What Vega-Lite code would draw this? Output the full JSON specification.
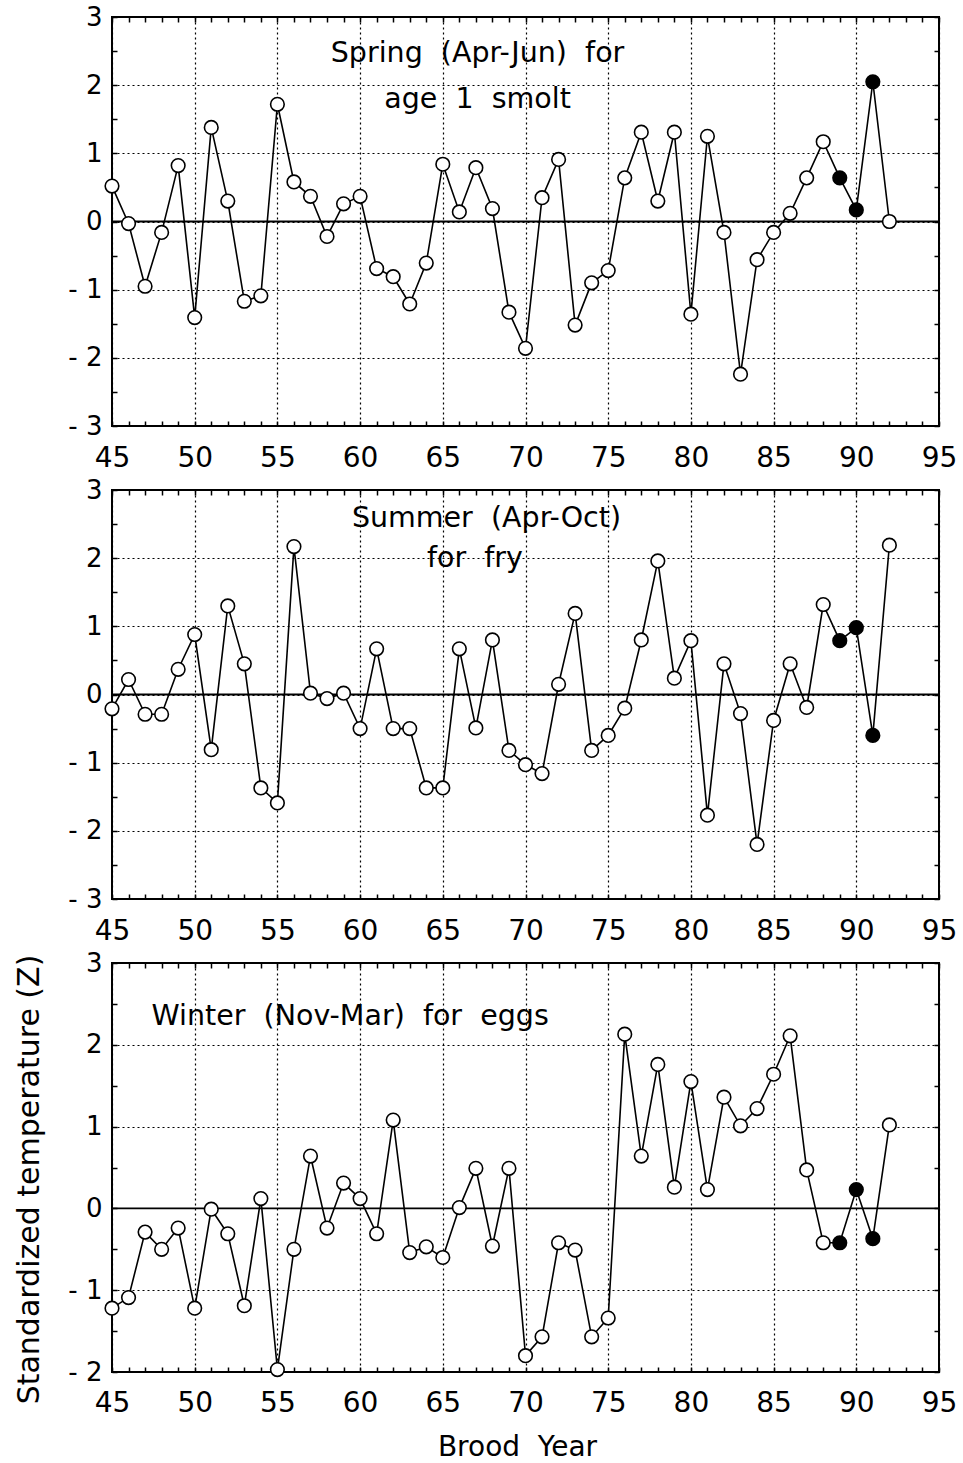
{
  "$schema": "https://vega.github.io/schema/vega-lite/v6.json",
  "autosize": {"type": "pad"},
  "padding": {"left": 12, "top": 3, "right": 5, "bottom": 2},
  "background": "white",
  "config": {
    "view": {"stroke": "black", "strokeWidth": 2},
    "font": "DejaVu Sans",
    "text": {"font": "DejaVu Sans"}
  },
  "spacing": 64,
  "bounds": "flush",
  "datasets": {
    "temps": [
      {"season": "spring", "year": 45, "z": 0.52}, {"season": "spring", "year": 46, "z": -0.03}, {"season": "spring", "year": 47, "z": -0.95}, {"season": "spring", "year": 48, "z": -0.16}, {"season": "spring", "year": 49, "z": 0.82}, {"season": "spring", "year": 50, "z": -1.41}, {"season": "spring", "year": 51, "z": 1.38}, {"season": "spring", "year": 52, "z": 0.30}, {"season": "spring", "year": 53, "z": -1.17}, {"season": "spring", "year": 54, "z": -1.09}, {"season": "spring", "year": 55, "z": 1.72}, {"season": "spring", "year": 56, "z": 0.58}, {"season": "spring", "year": 57, "z": 0.37}, {"season": "spring", "year": 58, "z": -0.22}, {"season": "spring", "year": 59, "z": 0.26}, {"season": "spring", "year": 60, "z": 0.37}, {"season": "spring", "year": 61, "z": -0.69}, {"season": "spring", "year": 62, "z": -0.81}, {"season": "spring", "year": 63, "z": -1.21}, {"season": "spring", "year": 64, "z": -0.61}, {"season": "spring", "year": 65, "z": 0.84}, {"season": "spring", "year": 66, "z": 0.14}, {"season": "spring", "year": 67, "z": 0.79}, {"season": "spring", "year": 68, "z": 0.19}, {"season": "spring", "year": 69, "z": -1.33}, {"season": "spring", "year": 70, "z": -1.86}, {"season": "spring", "year": 71, "z": 0.35}, {"season": "spring", "year": 72, "z": 0.91}, {"season": "spring", "year": 73, "z": -1.52}, {"season": "spring", "year": 74, "z": -0.90}, {"season": "spring", "year": 75, "z": -0.72}, {"season": "spring", "year": 76, "z": 0.64}, {"season": "spring", "year": 77, "z": 1.31}, {"season": "spring", "year": 78, "z": 0.30}, {"season": "spring", "year": 79, "z": 1.31}, {"season": "spring", "year": 80, "z": -1.36}, {"season": "spring", "year": 81, "z": 1.25}, {"season": "spring", "year": 82, "z": -0.16}, {"season": "spring", "year": 83, "z": -2.24}, {"season": "spring", "year": 84, "z": -0.56}, {"season": "spring", "year": 85, "z": -0.16}, {"season": "spring", "year": 86, "z": 0.12}, {"season": "spring", "year": 87, "z": 0.64}, {"season": "spring", "year": 88, "z": 1.17}, {"season": "spring", "year": 89, "z": 0.64}, {"season": "spring", "year": 90, "z": 0.17}, {"season": "spring", "year": 91, "z": 2.05}, {"season": "spring", "year": 92, "z": 0.0},
      {"season": "summer", "year": 45, "z": -0.21}, {"season": "summer", "year": 46, "z": 0.22}, {"season": "summer", "year": 47, "z": -0.29}, {"season": "summer", "year": 48, "z": -0.29}, {"season": "summer", "year": 49, "z": 0.37}, {"season": "summer", "year": 50, "z": 0.88}, {"season": "summer", "year": 51, "z": -0.81}, {"season": "summer", "year": 52, "z": 1.30}, {"season": "summer", "year": 53, "z": 0.45}, {"season": "summer", "year": 54, "z": -1.37}, {"season": "summer", "year": 55, "z": -1.59}, {"season": "summer", "year": 56, "z": 2.17}, {"season": "summer", "year": 57, "z": 0.02}, {"season": "summer", "year": 58, "z": -0.06}, {"season": "summer", "year": 59, "z": 0.02}, {"season": "summer", "year": 60, "z": -0.50}, {"season": "summer", "year": 61, "z": 0.67}, {"season": "summer", "year": 62, "z": -0.50}, {"season": "summer", "year": 63, "z": -0.50}, {"season": "summer", "year": 64, "z": -1.37}, {"season": "summer", "year": 65, "z": -1.37}, {"season": "summer", "year": 66, "z": 0.67}, {"season": "summer", "year": 67, "z": -0.49}, {"season": "summer", "year": 68, "z": 0.80}, {"season": "summer", "year": 69, "z": -0.82}, {"season": "summer", "year": 70, "z": -1.03}, {"season": "summer", "year": 71, "z": -1.16}, {"season": "summer", "year": 72, "z": 0.15}, {"season": "summer", "year": 73, "z": 1.19}, {"season": "summer", "year": 74, "z": -0.82}, {"season": "summer", "year": 75, "z": -0.60}, {"season": "summer", "year": 76, "z": -0.20}, {"season": "summer", "year": 77, "z": 0.80}, {"season": "summer", "year": 78, "z": 1.96}, {"season": "summer", "year": 79, "z": 0.24}, {"season": "summer", "year": 80, "z": 0.79}, {"season": "summer", "year": 81, "z": -1.77}, {"season": "summer", "year": 82, "z": 0.45}, {"season": "summer", "year": 83, "z": -0.28}, {"season": "summer", "year": 84, "z": -2.20}, {"season": "summer", "year": 85, "z": -0.38}, {"season": "summer", "year": 86, "z": 0.45}, {"season": "summer", "year": 87, "z": -0.19}, {"season": "summer", "year": 88, "z": 1.32}, {"season": "summer", "year": 89, "z": 0.79}, {"season": "summer", "year": 90, "z": 0.98}, {"season": "summer", "year": 91, "z": -0.60}, {"season": "summer", "year": 92, "z": 2.19},
      {"season": "winter", "year": 45, "z": -1.22}, {"season": "winter", "year": 46, "z": -1.09}, {"season": "winter", "year": 47, "z": -0.29}, {"season": "winter", "year": 48, "z": -0.50}, {"season": "winter", "year": 49, "z": -0.24}, {"season": "winter", "year": 50, "z": -1.22}, {"season": "winter", "year": 51, "z": -0.01}, {"season": "winter", "year": 52, "z": -0.31}, {"season": "winter", "year": 53, "z": -1.19}, {"season": "winter", "year": 54, "z": 0.12}, {"season": "winter", "year": 55, "z": -1.97}, {"season": "winter", "year": 56, "z": -0.50}, {"season": "winter", "year": 57, "z": 0.64}, {"season": "winter", "year": 58, "z": -0.24}, {"season": "winter", "year": 59, "z": 0.31}, {"season": "winter", "year": 60, "z": 0.12}, {"season": "winter", "year": 61, "z": -0.31}, {"season": "winter", "year": 62, "z": 1.08}, {"season": "winter", "year": 63, "z": -0.54}, {"season": "winter", "year": 64, "z": -0.47}, {"season": "winter", "year": 65, "z": -0.60}, {"season": "winter", "year": 66, "z": 0.01}, {"season": "winter", "year": 67, "z": 0.49}, {"season": "winter", "year": 68, "z": -0.46}, {"season": "winter", "year": 69, "z": 0.49}, {"season": "winter", "year": 70, "z": -1.80}, {"season": "winter", "year": 71, "z": -1.57}, {"season": "winter", "year": 72, "z": -0.42}, {"season": "winter", "year": 73, "z": -0.51}, {"season": "winter", "year": 74, "z": -1.57}, {"season": "winter", "year": 75, "z": -1.34}, {"season": "winter", "year": 76, "z": 2.13}, {"season": "winter", "year": 77, "z": 0.64}, {"season": "winter", "year": 78, "z": 1.76}, {"season": "winter", "year": 79, "z": 0.26}, {"season": "winter", "year": 80, "z": 1.55}, {"season": "winter", "year": 81, "z": 0.23}, {"season": "winter", "year": 82, "z": 1.36}, {"season": "winter", "year": 83, "z": 1.01}, {"season": "winter", "year": 84, "z": 1.22}, {"season": "winter", "year": 85, "z": 1.64}, {"season": "winter", "year": 86, "z": 2.11}, {"season": "winter", "year": 87, "z": 0.47}, {"season": "winter", "year": 88, "z": -0.42}, {"season": "winter", "year": 89, "z": -0.42}, {"season": "winter", "year": 90, "z": 0.23}, {"season": "winter", "year": 91, "z": -0.37}, {"season": "winter", "year": 92, "z": 1.02}
    ]
  },
  "vconcat": [
    {
      "width": 827, "height": 409,
      "resolve": {"axis": {"x": "independent", "y": "independent"}},
      "layer": [
        {
          "data": {"values": [{}]},
          "mark": {"type": "rule", "color": "black", "strokeWidth": 1.8},
          "encoding": {"y": {"datum": 0, "type": "quantitative", "scale": {"domain": [-3, 3], "nice": false, "zero": false}, "axis": null}}
        },
        {
          "data": {"name": "temps"},
          "transform": [{"filter": "datum.season === 'spring'"}],
          "mark": {"type": "line", "color": "black", "strokeWidth": 1.6},
          "encoding": {
            "x": {"field": "year", "type": "quantitative", "scale": {"domain": [45, 95], "nice": false, "zero": false},
              "axis": {"orient": "bottom", "values": [45,46,47,48,49,50,51,52,53,54,55,56,57,58,59,60,61,62,63,64,65,66,67,68,69,70,71,72,73,74,75,76,77,78,79,80,81,82,83,84,85,86,87,88,89,90,91,92,93,94,95],
                "domain": false, "tickSize": -5, "tickColor": "black", "tickWidth": 1.5,
                "grid": true, "gridColor": "black", "gridDash": [2, 3], "gridWidth": 1.2,
                "gridOpacity": {"condition": {"test": "datum.value % 5 === 0", "value": 1}, "value": 0},
                "labelExpr": "datum.value % 5 === 0 ? datum.label : ''",
                "labelFont": "DejaVu Sans", "labelFontSize": 28, "labelColor": "black", "labelPadding": 23, "labelBaseline": "top",
                "labelFlush": false, "labelOverlap": false, "labelBound": false, "title": null}},
            "y": {"field": "z", "type": "quantitative", "scale": {"domain": [-3, 3], "nice": false, "zero": false},
              "axis": {"orient": "left", "values": [-3,-2.5,-2,-1.5,-1,-0.5,0,0.5,1,1.5,2,2.5,3],
                "domain": false, "tickSize": -5, "tickColor": "black", "tickWidth": 1.5,
                "grid": true, "gridColor": "black", "gridDash": [2, 3], "gridWidth": 1.2,
                "gridOpacity": {"condition": {"test": "datum.value % 1 === 0", "value": 1}, "value": 0},
                "labelExpr": "datum.value % 1 !== 0 ? '' : (datum.value < 0 ? '- ' + abs(datum.value) : '' + datum.value)",
                "labelFont": "DejaVu Sans", "labelFontSize": 26, "labelColor": "black", "labelPadding": 15,
                "labelFlush": false, "labelOverlap": false, "labelBound": false, "title": null}}
          }
        },
        {
          "data": {"name": "temps"},
          "transform": [{"filter": "datum.season === 'spring'"}],
          "mark": {"type": "point", "shape": "circle", "filled": true, "size": 185, "stroke": "black", "strokeWidth": 1.6, "opacity": 1},
          "encoding": {
            "x": {"field": "year", "type": "quantitative", "scale": {"domain": [45, 95], "nice": false, "zero": false},
              "axis": {"orient": "top", "values": [45,46,47,48,49,50,51,52,53,54,55,56,57,58,59,60,61,62,63,64,65,66,67,68,69,70,71,72,73,74,75,76,77,78,79,80,81,82,83,84,85,86,87,88,89,90,91,92,93,94,95],
                "domain": false, "tickSize": -5, "tickColor": "black", "tickWidth": 1.5, "grid": false, "labels": false, "title": null}},
            "y": {"field": "z", "type": "quantitative", "scale": {"domain": [-3, 3], "nice": false, "zero": false},
              "axis": {"orient": "right", "values": [-3,-2.5,-2,-1.5,-1,-0.5,0,0.5,1,1.5,2,2.5,3],
                "domain": false, "tickSize": -5, "tickColor": "black", "tickWidth": 1.5, "grid": false, "labels": false, "title": null}},
            "fill": {"condition": {"test": "datum.year >= 89 && datum.year <= 91", "value": "black"}, "value": "white"}
          }
        },
        {
          "data": {"values": [{}]},
          "mark": {"type": "text", "text": "Spring\u00a0 (Apr-Jun)\u00a0 for", "font": "DejaVu Sans", "fontSize": 28.5, "align": "center", "baseline": "alphabetic", "color": "black"},
          "encoding": {"x": {"datum": 67.1, "type": "quantitative", "axis": null}, "y": {"datum": 2.34, "type": "quantitative", "axis": null}}
        },
        {
          "data": {"values": [{}]},
          "mark": {"type": "text", "text": "age\u00a0 1\u00a0 smolt", "font": "DejaVu Sans", "fontSize": 28.5, "align": "center", "baseline": "alphabetic", "color": "black"},
          "encoding": {"x": {"datum": 67.1, "type": "quantitative", "axis": null}, "y": {"datum": 1.665, "type": "quantitative", "axis": null}}
        }
      ]
    },
    {
      "width": 827, "height": 409,
      "resolve": {"axis": {"x": "independent", "y": "independent"}},
      "layer": [
        {
          "data": {"values": [{}]},
          "mark": {"type": "rule", "color": "black", "strokeWidth": 1.8},
          "encoding": {"y": {"datum": 0, "type": "quantitative", "scale": {"domain": [-3, 3], "nice": false, "zero": false}, "axis": null}}
        },
        {
          "data": {"name": "temps"},
          "transform": [{"filter": "datum.season === 'summer'"}],
          "mark": {"type": "line", "color": "black", "strokeWidth": 1.6},
          "encoding": {
            "x": {"field": "year", "type": "quantitative", "scale": {"domain": [45, 95], "nice": false, "zero": false},
              "axis": {"orient": "bottom", "values": [45,46,47,48,49,50,51,52,53,54,55,56,57,58,59,60,61,62,63,64,65,66,67,68,69,70,71,72,73,74,75,76,77,78,79,80,81,82,83,84,85,86,87,88,89,90,91,92,93,94,95],
                "domain": false, "tickSize": -5, "tickColor": "black", "tickWidth": 1.5,
                "grid": true, "gridColor": "black", "gridDash": [2, 3], "gridWidth": 1.2,
                "gridOpacity": {"condition": {"test": "datum.value % 5 === 0", "value": 1}, "value": 0},
                "labelExpr": "datum.value % 5 === 0 ? datum.label : ''",
                "labelFont": "DejaVu Sans", "labelFontSize": 28, "labelColor": "black", "labelPadding": 23, "labelBaseline": "top",
                "labelFlush": false, "labelOverlap": false, "labelBound": false, "title": null}},
            "y": {"field": "z", "type": "quantitative", "scale": {"domain": [-3, 3], "nice": false, "zero": false},
              "axis": {"orient": "left", "values": [-3,-2.5,-2,-1.5,-1,-0.5,0,0.5,1,1.5,2,2.5,3],
                "domain": false, "tickSize": -5, "tickColor": "black", "tickWidth": 1.5,
                "grid": true, "gridColor": "black", "gridDash": [2, 3], "gridWidth": 1.2,
                "gridOpacity": {"condition": {"test": "datum.value % 1 === 0", "value": 1}, "value": 0},
                "labelExpr": "datum.value % 1 !== 0 ? '' : (datum.value < 0 ? '- ' + abs(datum.value) : '' + datum.value)",
                "labelFont": "DejaVu Sans", "labelFontSize": 26, "labelColor": "black", "labelPadding": 15,
                "labelFlush": false, "labelOverlap": false, "labelBound": false, "title": null}}
          }
        },
        {
          "data": {"name": "temps"},
          "transform": [{"filter": "datum.season === 'summer'"}],
          "mark": {"type": "point", "shape": "circle", "filled": true, "size": 185, "stroke": "black", "strokeWidth": 1.6, "opacity": 1},
          "encoding": {
            "x": {"field": "year", "type": "quantitative", "scale": {"domain": [45, 95], "nice": false, "zero": false},
              "axis": {"orient": "top", "values": [45,46,47,48,49,50,51,52,53,54,55,56,57,58,59,60,61,62,63,64,65,66,67,68,69,70,71,72,73,74,75,76,77,78,79,80,81,82,83,84,85,86,87,88,89,90,91,92,93,94,95],
                "domain": false, "tickSize": -5, "tickColor": "black", "tickWidth": 1.5, "grid": false, "labels": false, "title": null}},
            "y": {"field": "z", "type": "quantitative", "scale": {"domain": [-3, 3], "nice": false, "zero": false},
              "axis": {"orient": "right", "values": [-3,-2.5,-2,-1.5,-1,-0.5,0,0.5,1,1.5,2,2.5,3],
                "domain": false, "tickSize": -5, "tickColor": "black", "tickWidth": 1.5, "grid": false, "labels": false, "title": null}},
            "fill": {"condition": {"test": "datum.year >= 89 && datum.year <= 91", "value": "black"}, "value": "white"}
          }
        },
        {
          "data": {"values": [{}]},
          "mark": {"type": "text", "text": "Summer\u00a0 (Apr-Oct)", "font": "DejaVu Sans", "fontSize": 28.5, "align": "center", "baseline": "alphabetic", "color": "black"},
          "encoding": {"x": {"datum": 67.64, "type": "quantitative", "axis": null}, "y": {"datum": 2.46, "type": "quantitative", "axis": null}}
        },
        {
          "data": {"values": [{}]},
          "mark": {"type": "text", "text": "for\u00a0 fry", "font": "DejaVu Sans", "fontSize": 28.5, "align": "center", "baseline": "alphabetic", "color": "black"},
          "encoding": {"x": {"datum": 66.94, "type": "quantitative", "axis": null}, "y": {"datum": 1.87, "type": "quantitative", "axis": null}}
        }
      ]
    },
    {
      "width": 827, "height": 409,
      "resolve": {"axis": {"x": "independent", "y": "independent"}},
      "layer": [
        {
          "data": {"values": [{}]},
          "mark": {"type": "rule", "color": "black", "strokeWidth": 1.8},
          "encoding": {"y": {"datum": 0, "type": "quantitative", "scale": {"domain": [-2, 3], "nice": false, "zero": false}, "axis": null}}
        },
        {
          "data": {"name": "temps"},
          "transform": [{"filter": "datum.season === 'winter'"}],
          "mark": {"type": "line", "color": "black", "strokeWidth": 1.6},
          "encoding": {
            "x": {"field": "year", "type": "quantitative", "scale": {"domain": [45, 95], "nice": false, "zero": false},
              "axis": {"orient": "bottom", "values": [45,46,47,48,49,50,51,52,53,54,55,56,57,58,59,60,61,62,63,64,65,66,67,68,69,70,71,72,73,74,75,76,77,78,79,80,81,82,83,84,85,86,87,88,89,90,91,92,93,94,95],
                "domain": false, "tickSize": -5, "tickColor": "black", "tickWidth": 1.5,
                "grid": true, "gridColor": "black", "gridDash": [2, 3], "gridWidth": 1.2,
                "gridOpacity": {"condition": {"test": "datum.value % 5 === 0", "value": 1}, "value": 0},
                "labelExpr": "datum.value % 5 === 0 ? datum.label : ''",
                "labelFont": "DejaVu Sans", "labelFontSize": 28, "labelColor": "black", "labelPadding": 22, "labelBaseline": "top",
                "labelFlush": false, "labelOverlap": false, "labelBound": false,
                "title": "Brood\u00a0 Year", "titleFont": "DejaVu Sans", "titleFontSize": 28, "titleFontWeight": "normal", "titleColor": "black",
                "titleX": 405, "titleY": 83, "titleAlign": "center", "titleBaseline": "alphabetic"}},
            "y": {"field": "z", "type": "quantitative", "scale": {"domain": [-2, 3], "nice": false, "zero": false},
              "axis": {"orient": "left", "values": [-2,-1.5,-1,-0.5,0,0.5,1,1.5,2,2.5,3],
                "domain": false, "tickSize": -5, "tickColor": "black", "tickWidth": 1.5,
                "grid": true, "gridColor": "black", "gridDash": [2, 3], "gridWidth": 1.2,
                "gridOpacity": {"condition": {"test": "datum.value % 1 === 0", "value": 1}, "value": 0},
                "labelExpr": "datum.value % 1 !== 0 ? '' : (datum.value < 0 ? '- ' + abs(datum.value) : '' + datum.value)",
                "labelFont": "DejaVu Sans", "labelFontSize": 26, "labelColor": "black", "labelPadding": 15,
                "labelFlush": false, "labelOverlap": false, "labelBound": false,
                "title": "Standardized temperature (Z)", "titleFont": "DejaVu Sans", "titleFontSize": 30, "titleFontWeight": "normal", "titleColor": "black",
                "titleAngle": 270, "titleX": -74, "titleY": 216, "titleAlign": "center", "titleBaseline": "alphabetic"}}
          }
        },
        {
          "data": {"name": "temps"},
          "transform": [{"filter": "datum.season === 'winter'"}],
          "mark": {"type": "point", "shape": "circle", "filled": true, "size": 185, "stroke": "black", "strokeWidth": 1.6, "opacity": 1},
          "encoding": {
            "x": {"field": "year", "type": "quantitative", "scale": {"domain": [45, 95], "nice": false, "zero": false},
              "axis": {"orient": "top", "values": [45,46,47,48,49,50,51,52,53,54,55,56,57,58,59,60,61,62,63,64,65,66,67,68,69,70,71,72,73,74,75,76,77,78,79,80,81,82,83,84,85,86,87,88,89,90,91,92,93,94,95],
                "domain": false, "tickSize": -5, "tickColor": "black", "tickWidth": 1.5, "grid": false, "labels": false, "title": null}},
            "y": {"field": "z", "type": "quantitative", "scale": {"domain": [-2, 3], "nice": false, "zero": false},
              "axis": {"orient": "right", "values": [-2,-1.5,-1,-0.5,0,0.5,1,1.5,2,2.5,3],
                "domain": false, "tickSize": -5, "tickColor": "black", "tickWidth": 1.5, "grid": false, "labels": false, "title": null}},
            "fill": {"condition": {"test": "datum.year >= 89 && datum.year <= 91", "value": "black"}, "value": "white"}
          }
        },
        {
          "data": {"values": [{}]},
          "mark": {"type": "text", "text": "Winter\u00a0 (Nov-Mar)\u00a0 for\u00a0 eggs", "font": "DejaVu Sans", "fontSize": 28.5, "align": "left", "baseline": "alphabetic", "color": "black"},
          "encoding": {"x": {"datum": 47.39, "type": "quantitative", "axis": null}, "y": {"datum": 2.24, "type": "quantitative", "axis": null}}
        }
      ]
    }
  ]
}
